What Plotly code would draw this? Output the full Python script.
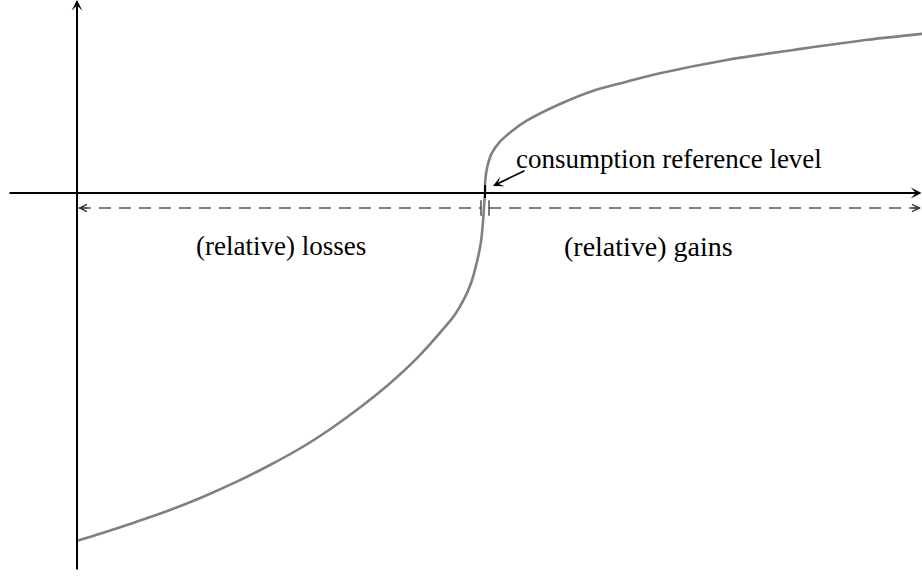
import plotly.graph_objects as go

# Value function (x: consumption relative to reference, y: value)
loss_x = [-4.077, -3.817, -3.483, -3.15, -2.817, -2.483, -2.15, -1.817, -1.56, -1.28, -0.97,
          -0.67, -0.40, -0.30, -0.21, -0.14, -0.08, -0.04, -0.02, -0.01, 0.0]
loss_y = [-3.477, -3.397, -3.287, -3.17, -3.037, -2.887, -2.72, -2.535, -2.37, -2.168, -1.92,
          -1.641, -1.339, -1.214, -1.061, -0.902, -0.686, -0.486, -0.286, -0.14, 0.0]
gain_x = [0.0, 0.003, 0.023, 0.067, 0.15, 0.283, 0.417, 0.75, 1.083, 1.417, 1.75, 2.417, 3.083, 3.75, 4.40]
gain_y = [0.0, 0.13, 0.263, 0.397, 0.513, 0.63, 0.723, 0.89, 1.023, 1.113, 1.197, 1.33, 1.43, 1.523, 1.594]

# Frame
x_min, x_max = -4.85, 4.37
y_min, y_max = -3.84, 1.93
y_axis_x = -4.08
y_axis_bottom = -3.78
x_axis_left = -4.77
dash_y = -0.15
gap_left, gap_right = -0.04, 0.04

labels = {
    "ref": "consumption reference level",
    "loss": "(relative) losses",
    "gain": "(relative) gains",
}

FONT = "Liberation Serif"
FS = 27
fig = go.Figure()

# curve
fig.add_trace(go.Scatter(x=loss_x + gain_x[1:], y=loss_y + gain_y[1:], mode="lines",
                         line=dict(color="#808080", width=2.6, shape="spline", smoothing=1.0),
                         hoverinfo="skip"))

# dashed measurement lines
fig.add_trace(go.Scatter(x=[y_axis_x + 0.02, gap_left], y=[dash_y, dash_y], mode="lines",
                         line=dict(color="#555555", width=1.3, dash="12px,8px"), hoverinfo="skip"))
fig.add_trace(go.Scatter(x=[gap_right, x_max - 0.02], y=[dash_y, dash_y], mode="lines",
                         line=dict(color="#555555", width=1.3, dash="12px,8px"), hoverinfo="skip"))
# end bars
fig.add_trace(go.Scatter(x=[gap_left, gap_right], y=[dash_y, dash_y], mode="markers",
                         marker=dict(symbol="line-ns-open", size=11, color="#333333",
                                     line=dict(color="#333333", width=1.3)), hoverinfo="skip"))
# reference tick
fig.add_trace(go.Scatter(x=[0, 0], y=[0.08, -0.05], mode="lines",
                         line=dict(color="black", width=2), hoverinfo="skip"))

# axes with arrows
fig.add_annotation(x=y_axis_x, y=y_max, ax=y_axis_x, ay=y_axis_bottom, xref="x", yref="y",
                   axref="x", ayref="y", showarrow=True, arrowhead=3, arrowwidth=2,
                   arrowsize=0.9, arrowcolor="black", text="")
fig.add_annotation(x=x_max - 0.005, y=0, ax=x_axis_left, ay=0, xref="x", yref="y",
                   axref="x", ayref="y", showarrow=True, arrowhead=3, arrowwidth=2,
                   arrowsize=0.9, arrowcolor="black", text="")
# dashed arrow heads
fig.add_annotation(x=y_axis_x + 0.01, y=dash_y, ax=y_axis_x + 0.12, ay=dash_y, xref="x", yref="y",
                   axref="x", ayref="y", showarrow=True, arrowhead=5, arrowwidth=1.2,
                   arrowsize=1.2, arrowcolor="#333333", text="")
fig.add_annotation(x=x_max - 0.01, y=dash_y, ax=x_max - 0.12, ay=dash_y, xref="x", yref="y",
                   axref="x", ayref="y", showarrow=True, arrowhead=5, arrowwidth=1.2,
                   arrowsize=1.2, arrowcolor="#333333", text="")

# reference-level label with arrow
fig.add_annotation(x=0.08, y=0.07, ax=0.41, ay=0.23, xref="x", yref="y", axref="x", ayref="y",
                   showarrow=True, arrowhead=3, arrowwidth=1.6, arrowsize=1.1,
                   arrowcolor="black", text="")
fig.add_annotation(x=0.29, y=0.345, xref="x", yref="y", text=labels["ref"], showarrow=False,
                   xanchor="left", yanchor="middle", font=dict(family=FONT, size=FS, color="black"))
fig.add_annotation(x=-2.045, y=-0.53, xref="x", yref="y", text=labels["loss"], showarrow=False,
                   xanchor="center", yanchor="middle", font=dict(family=FONT, size=FS, color="black"))
fig.add_annotation(x=1.635, y=-0.53, xref="x", yref="y", text=labels["gain"], showarrow=False,
                   xanchor="center", yanchor="middle", font=dict(family=FONT, size=FS + 1, color="black"))

fig.update_layout(
    width=922, height=577, margin=dict(l=0, r=0, t=0, b=0),
    paper_bgcolor="white", plot_bgcolor="white", showlegend=False,
    xaxis=dict(range=[x_min, x_max], visible=False, fixedrange=True),
    yaxis=dict(range=[y_min, y_max], visible=False, fixedrange=True),
)
fig.write_html("out.html", config={"displayModeBar": False},
               post_script="document.body.style.margin='0px';")
